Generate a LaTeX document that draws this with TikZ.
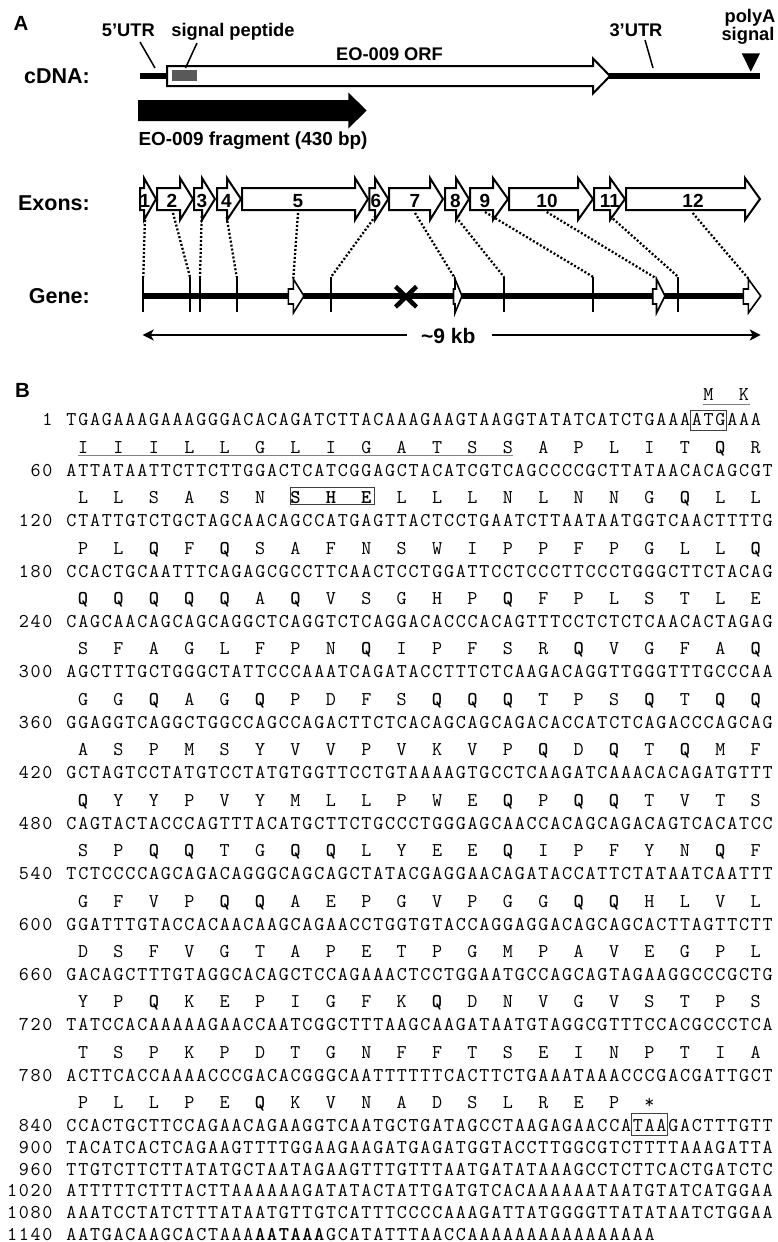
\documentclass[tikz,border=0pt]{standalone}
\usepackage{fontspec}
\setmainfont{Liberation Sans}
\usetikzlibrary{arrows.meta}

% one fixed-width cell per sequence character
\newlength\cellw
\setlength\cellw{11.8pt}
\makeatletter
\newcommand\cells[1]{\cells@#1\relax}
\def\cells@#1{\ifx#1\relax\else\makebox[\cellw][c]{#1}\expandafter\cells@\fi}
\makeatother
\newcommand\seqx{65.4}
\newcommand\seqw{11.8}
\newcommand\seqfont{\ttfamily\fontsize{19.5}{19.5}\selectfont}
\newcommand\bq{\textbf{Q}}

\tikzset{
  lab/.style={font=\fontsize{21.5}{21.5}\selectfont\bfseries, inner sep=0pt, anchor=base east},
  note/.style={font=\fontsize{18.3}{18.3}\selectfont\bfseries, inner sep=0pt, anchor=base},
  exnum/.style={font=\fontsize{19}{19}\selectfont\bfseries, inner sep=0pt, anchor=base},
  panel/.style={font=\fontsize{20.5}{20.5}\selectfont\bfseries, inner sep=0pt, anchor=base},
  exon/.style={draw=black, line width=2pt, fill=white, line join=miter},
  genex/.style={draw=black, line width=1.6pt, fill=white},
  tickmark/.style={line width=1.7pt},
  dots/.style={line width=2.3pt, dash pattern=on 2pt off 2pt},
  callout/.style={line width=1.5pt},
  heavy/.style={line width=6.5pt},
  seq/.style={font=\seqfont, inner sep=0pt, anchor=base west},
  num/.style={font=\seqfont, inner sep=0pt, anchor=base east},
  aa/.style={font=\seqfont, inner sep=0pt, anchor=base},
  uline/.style={draw=black!50, line width=1.2pt},
  frame/.style={draw=black!75, line width=1pt},
}

% exon arrow: name, body start, head start, tip, label x
\newcommand\exon[5]{%
  \draw[exon] (#2,188) -- (#3,188) -- (#3,178) -- (#4,199) -- (#3,220) -- (#3,210) -- (#2,210) -- cycle;
  \node[exnum] (ex#1) at (#5,207) {#1};}
% exon drawn on the gene line: body start, head start, tip
\newcommand\genearrow[3]{%
  \draw[genex] (#1,289) -- (#2,289) -- (#2,279) -- (#3,296) -- (#2,313) -- (#2,304) -- (#1,304) -- cycle;}
% numbered nucleotide row: number, baseline, sequence
\newcommand\dna[3]{%
  \node[num] (n#1) at ({\seqx-\seqw},#2) {\cells{#1}};
  \node[seq] (s#1) at (\seqx,#2) {\cells{#3}};}
% translated residues: row name, first codon offset, baseline, residues
\newcommand\aas[4]{%
  \foreach \res [count=\k from 0] in {#4}
    \node[aa] (a#1-\k) at ({\seqx+(3*\k+1.5+#2)*\seqw},#3) {\res};}

\begin{document}
\begin{tikzpicture}[x=1pt,y=-1pt]
\fill[white] (0,0) rectangle (778,1242);
\useasboundingbox (0,0) rectangle (778,1242);

% ---------------- panel A ----------------
\node[panel] (pA) at (21,30) {A};
\node[lab] (cdna) at (90,83.3) {cDNA:};
\node[lab] (exons) at (90,210) {Exons:};
\node[lab] (gene) at (90,303) {Gene:};

% transcript
\draw[heavy] (140,76) -- (168,76);
\draw[heavy] (605,76) -- (760,76);
\draw[line width=2pt, fill=white] (167,66) -- (593,66) -- (593,58.5) -- (610,76) -- (593,93.5) -- (593,86) -- (167,86) -- cycle;
\fill[black!65] (172,70) rectangle (197,81);
\fill (741.7,53.3) -- (760,53.3) -- (750.8,71.7) -- cycle;

\node[note] (utr5) at (128.3,36.7) {5'UTR};
\node[note] (sigp) at (233,36.7) {signal peptide};
\node[note] (orf) at (389.5,60.7) {EO-009 ORF};
\node[note] (utr3) at (636,36.7) {3'UTR};
\node[note] (polya) at (750,22.7) {polyA};
\node[note] (polyb) at (748,40.5) {signal};

\coordinate (c1a) at (140,42); \coordinate (c1b) at (155,68);
\coordinate (c2a) at (197,43); \coordinate (c2b) at (185.5,68);
\coordinate (c3a) at (645,40); \coordinate (c3b) at (653,68);
\draw[callout] (c1a) -- (c1b);
\draw[callout] (c2a) -- (c2b);
\draw[callout] (c3a) -- (c3b);

% cloned fragment
\fill (138,100) -- (348.3,100) -- (348.3,92.5) -- (366.7,110.5) -- (348.3,128.5) -- (348.3,121) -- (138,121) -- cycle;
\node[font=\fontsize{18.9}{18.9}\selectfont\bfseries, inner sep=0pt, anchor=base west] (frag) at (138.3,145.5) {EO-009 fragment (430 bp)};

% exons
\exon{1}{140}{144}{156}{145}
\exon{2}{157}{180}{193}{172}
\exon{3}{194}{202}{215}{202}
\exon{4}{217}{227}{241}{226.5}
\exon{5}{242}{355}{368}{298}
\exon{6}{369.3}{375}{388.3}{376}
\exon{7}{389}{430}{443}{415}
\exon{8}{445}{456}{469}{455.5}
\exon{9}{470}{493}{508}{485}
\exon{10}{509}{578}{593}{547}
\exon{11}{594}{610}{625}{610}
\exon{12}{626}{745}{760}{693}

% gene
\draw[heavy] (143,296) -- (750,296);
\foreach \t in {143.3,190,200,236.7,331,504,593.3,678.3}
  \draw[tickmark] (\t,277) -- (\t,312);
\genearrow{288.3}{293.3}{304}
\genearrow{453.5}{455}{462}
\genearrow{652.7}{656.5}{665}
\genearrow{743.3}{748.3}{760.7}
\draw[line width=4.5pt] (395.5,286.5) -- (416.5,307);
\draw[line width=4.5pt] (395.5,307) -- (416.5,286.5);

% exon-to-gene correspondence
\coordinate (t1) at (145,216);   \coordinate (b1) at (143.3,277);
\coordinate (t2) at (173,213);   \coordinate (b2) at (190,277);
\coordinate (t3) at (201.7,216); \coordinate (b3) at (200,277);
\coordinate (t4) at (226.7,217); \coordinate (b4) at (236.7,277);
\coordinate (t5) at (298,213);   \coordinate (b5) at (293.3,278.5);
\coordinate (t6) at (375.5,216); \coordinate (b6) at (331,277);
\coordinate (t7) at (415,213);   \coordinate (b7) at (455,278.5);
\coordinate (t8) at (456,217);   \coordinate (b8) at (504,277);
\coordinate (t9) at (485,212);   \coordinate (b9) at (593.3,277);
\coordinate (t10) at (546.7,212);\coordinate (b10) at (656.5,278.5);
\coordinate (t11) at (610,216);  \coordinate (b11) at (678.3,277);
\coordinate (t12) at (692.7,213);\coordinate (b12) at (748.3,278.5);
\foreach \i in {1,...,12} \draw[dots] (t\i) -- (b\i);

% length scale
\node[font=\fontsize{21}{21}\selectfont\bfseries, inner sep=0pt, anchor=base] (kb) at (448.3,343) {\textasciitilde9 kb};
\coordinate (sl) at (142.7,335); \coordinate (sr) at (760.7,335);
\draw[line width=1.5pt, -{Stealth[length=11pt,width=11pt,inset=3pt]}] (kb.west |- sl) ++(-14,0) -- (sl);
\draw[line width=1.5pt, -{Stealth[length=11pt,width=11pt,inset=3pt]}] (kb.east |- sr) ++(16,0) -- (sr);

% ---------------- panel B ----------------
\node[panel] (pB) at (22.5,397) {B};

\aas{1}{53}{400.7}{M,K}
\dna{1}{425.7}{TGAGAAAGAAAGGGACACAGATCTTACAAAGAAGTAAGGTATATCATCTGAAAATGAAA}
\draw[frame] ({\seqx+53*\seqw},410) rectangle ({\seqx+56*\seqw},430.5);
\draw[uline] ([shift={(-5.6pt,-4pt)}]a1-0.base) -- ([shift={(5.8pt,-4pt)}]a1-1.base);

\aas{60}{0}{453.1}{I,I,I,L,L,G,L,I,G,A,T,S,S,A,P,L,I,T,\bq,R}
\dna{60}{476.1}{ATTATAATTCTTCTTGGACTCATCGGAGCTACATCGTCAGCCCCGCTTATAACACAGCGT}
\draw[uline] ([shift={(-5.3pt,-2.5pt)}]a60-0.base) -- ([shift={(5pt,-2.5pt)}]a60-12.base);

\aas{120}{0}{503.6}{L,L,S,A,S,N,\textbf{S},\textbf{H},\textbf{E},L,L,L,N,L,N,N,G,\bq,L,L}
\dna{120}{526.6}{CTATTGTCTGCTAGCAACAGCCATGAGTTACTCCTGAATCTTAATAATGGTCAACTTTTG}
\draw[frame] ({\seqx+19.05*\seqw},487.3) rectangle ({\seqx+26.2*\seqw},504);

\aas{180}{0}{554}{P,L,\bq,F,\bq,S,A,F,N,S,W,I,P,P,F,P,G,L,L,\bq}
\dna{180}{577}{CCACTGCAATTTCAGAGCGCCTTCAACTCCTGGATTCCTCCCTTCCCTGGGCTTCTACAG}

\aas{240}{0}{604.4}{\bq,\bq,\bq,\bq,\bq,A,\bq,V,S,G,H,P,\bq,F,P,L,S,T,L,E}
\dna{240}{627.4}{CAGCAACAGCAGCAGGCTCAGGTCTCAGGACACCCACAGTTTCCTCTCTCAACACTAGAG}

\aas{300}{0}{654.9}{S,F,A,G,L,F,P,N,\bq,I,P,F,S,R,\bq,V,G,F,A,\bq}
\dna{300}{677.9}{AGCTTTGCTGGGCTATTCCCAAATCAGATACCTTTCTCAAGACAGGTTGGGTTTGCCCAA}

\aas{360}{0}{705.3}{G,G,\bq,A,G,\bq,P,D,F,S,\bq,\bq,\bq,T,P,S,\bq,T,\bq,\bq}
\dna{360}{728.3}{GGAGGTCAGGCTGGCCAGCCAGACTTCTCACAGCAGCAGACACCATCTCAGACCCAGCAG}

\aas{420}{0}{755.7}{A,S,P,M,S,Y,V,V,P,V,K,V,P,\bq,D,\bq,T,\bq,M,F}
\dna{420}{778.7}{GCTAGTCCTATGTCCTATGTGGTTCCTGTAAAAGTGCCTCAAGATCAAACACAGATGTTT}

\aas{480}{0}{806.1}{\bq,Y,Y,P,V,Y,M,L,L,P,W,E,\bq,P,\bq,\bq,T,V,T,S}
\dna{480}{829.1}{CAGTACTACCCAGTTTACATGCTTCTGCCCTGGGAGCAACCACAGCAGACAGTCACATCC}

\aas{540}{0}{856.6}{S,P,\bq,\bq,T,G,\bq,\bq,L,Y,E,E,\bq,I,P,F,Y,N,\bq,F}
\dna{540}{879.6}{TCTCCCCAGCAGACAGGGCAGCAGCTATACGAGGAACAGATACCATTCTATAATCAATTT}

\aas{600}{0}{907}{G,F,V,P,\bq,\bq,A,E,P,G,V,P,G,G,\bq,\bq,H,L,V,L}
\dna{600}{930}{GGATTTGTACCACAACAAGCAGAACCTGGTGTACCAGGAGGACAGCAGCACTTAGTTCTT}

\aas{660}{0}{957.4}{D,S,F,V,G,T,A,P,E,T,P,G,M,P,A,V,E,G,P,L}
\dna{660}{980.4}{GACAGCTTTGTAGGCACAGCTCCAGAAACTCCTGGAATGCCAGCAGTAGAAGGCCCGCTG}

\aas{720}{0}{1007.9}{Y,P,\bq,K,E,P,I,G,F,K,\bq,D,N,V,G,V,S,T,P,S}
\dna{720}{1030.9}{TATCCACAAAAAGAACCAATCGGCTTTAAGCAAGATAATGTAGGCGTTTCCACGCCCTCA}

\aas{780}{0}{1058.3}{T,S,P,K,P,D,T,G,N,F,F,T,S,E,I,N,P,T,I,A}
\dna{780}{1081.3}{ACTTCACCAAAACCCGACACGGGCAATTTTTTCACTTCTGAAATAAACCCGACGATTGCT}

\aas{840}{0}{1108.7}{P,L,L,P,E,\bq,K,V,N,A,D,S,L,R,E,P,*}
\dna{840}{1131.7}{CCACTGCTTCCAGAACAGAAGGTCAATGCTGATAGCCTAAGAGAACCATAAGACTTTGTT}
\draw[frame] ({\seqx+48*\seqw},1113) rectangle ({\seqx+51*\seqw},1135.5);

\dna{900}{1153.3}{TACATCACTCAGAAGTTTTGGAAGAAGATGAGATGGTACCTTGGCGTCTTTTAAAGATTA}
\dna{960}{1175}{TTGTCTTCTTATATGCTAATAGAAGTTTGTTTAATGATATAAAGCCTCTTCACTGATCTC}
\dna{1020}{1196.7}{ATTTTTCTTTACTTAAAAAAGATATACTATTGATGTCACAAAAAATAATGTATCATGGAA}
\dna{1080}{1218.3}{AAATCCTATCTTTATAATGTTGTCATTTCCCCAAAGATTATGGGGTTATATAATCTGGAA}
\node[num] (n1140) at ({\seqx-\seqw},1240) {\cells{1140}};
\node[seq] (s1140) at (\seqx,1240) {\cells{AATGACAAGCACTAAA}\textbf{\cells{AATAAA}}\cells{GCATATTTAACCAAAAAAAAAAAAAAAA}};
\end{tikzpicture}
\end{document}
